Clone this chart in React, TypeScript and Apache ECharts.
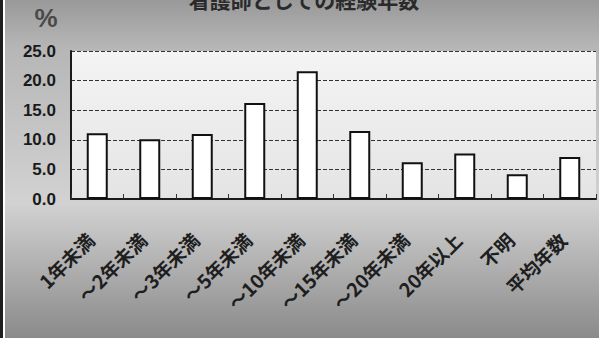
import React, { useEffect, useRef } from "react";
import * as echarts from "echarts";

const title = "看護師としての経験年数";
const unitLabel = "%";
const categories = [
  "1年未満",
  "～2年未満",
  "～3年未満",
  "～5年未満",
  "～10年未満",
  "～15年未満",
  "～20年未満",
  "20年以上",
  "不明",
  "平均年数",
];
const values = [11.1, 10.1, 11.0, 16.2, 21.6, 11.5, 6.2, 7.7, 4.2, 7.1];
const yMin = 0;
const yMax = 25;
const yInterval = 5;

export default function App() {
  const ref = useRef<HTMLDivElement>(null);
  useEffect(() => {
    if (!ref.current) return;
    const chart = echarts.init(ref.current, undefined, { renderer: "svg" });
    const cjk = "'Noto Sans CJK JP', 'Noto Sans', sans-serif";
    chart.setOption({
      animation: false,
      backgroundColor: new echarts.graphic.LinearGradient(0, 0, 0, 1, [
        { offset: 0, color: "#999999" },
        { offset: 0.14, color: "#b6b6b6" },
        { offset: 0.6, color: "#d2d2d2" },
        { offset: 1, color: "#8a8a8a" },
      ]),
      graphic: [
        { type: "rect", shape: { x: 0, y: 0, width: 3, height: 338 }, style: { fill: "#1e1e1e" } },
        { type: "rect", shape: { x: 3, y: 0, width: 2, height: 338 }, style: { fill: "#ffffff" } },
        {
          type: "text",
          x: 304,
          y: -12,
          style: {
            text: title,
            fill: "#2a2a2a",
            font: `bold 21px ${cjk}`,
            textAlign: "center",
            textVerticalAlign: "top",
          },
        },
        {
          type: "text",
          x: 46,
          y: 18,
          style: {
            text: unitLabel,
            fill: "#4a4a4a",
            font: "bold 26px 'Liberation Sans', Arial, sans-serif",
            textAlign: "center",
            textVerticalAlign: "middle",
          },
        },
      ],
      grid: {
        left: 71,
        right: 3,
        top: 51,
        bottom: 139,
        show: true,
        borderWidth: 0,
        backgroundColor: new echarts.graphic.LinearGradient(0, 0, 0, 1, [
          { offset: 0, color: "#f4f4f4" },
          { offset: 1, color: "#e4e4e4" },
        ]),
      },
      xAxis: {
        type: "category",
        data: categories,
        boundaryGap: true,
        axisLine: { show: true, lineStyle: { color: "#1a1a1a", width: 2 } },
        axisTick: { show: true, inside: true, length: 5, lineStyle: { color: "#333", width: 1 } },
        axisLabel: {
          rotate: 45,
          interval: 0,
          margin: 30,
          padding: [0, 10, 0, 0],
          color: "#1e1e1e",
          fontSize: 19,
          fontWeight: "bold",
          fontFamily: cjk,
        },
        splitLine: { show: false },
      },
      yAxis: {
        type: "value",
        min: yMin,
        max: yMax,
        interval: yInterval,
        axisLine: { show: true, lineStyle: { color: "#1a1a1a", width: 2 } },
        axisTick: { show: false },
        axisLabel: {
          margin: 15,
          color: "#1a1a1a",
          fontSize: 17,
          fontWeight: "bold",
          fontFamily: "'Liberation Sans', Arial, sans-serif",
          formatter: (v: number) => v.toFixed(1),
        },
        splitLine: {
          show: true,
          lineStyle: { color: "#333333", width: 1, type: [4, 2] },
        },
      },
      series: [
        {
          type: "bar",
          data: values,
          barWidth: 21,
          itemStyle: { color: "#ffffff", borderColor: "#111111", borderWidth: 2 },
        },
      ],
    });
    return () => chart.dispose();
  }, []);
  return (
    <div
      ref={ref}
      style={{ position: "fixed", left: 0, top: 0, width: 599, height: 338 }}
    />
  );
}
